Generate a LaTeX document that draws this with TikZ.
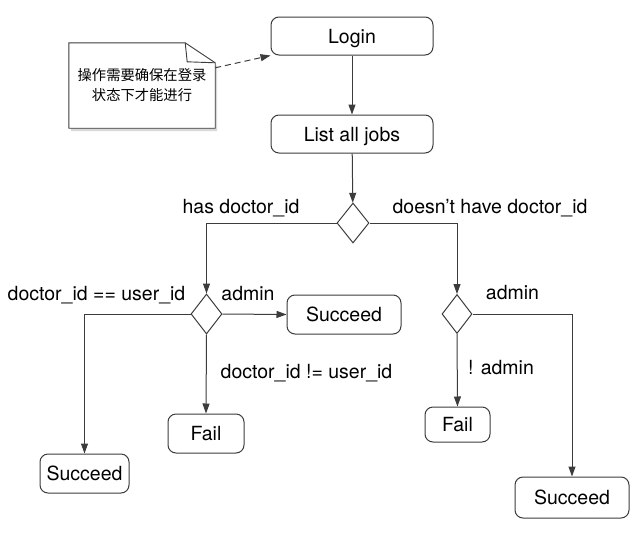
\documentclass[tikz,border=0pt]{standalone}
\usepackage{fontspec}
\setmainfont{TeX Gyre Heros}
\newfontfamily\cjk{Noto Sans CJK SC}
\usetikzlibrary{shapes.geometric,arrows.meta,shadows}

\definecolor{linegray}{RGB}{60,60,60}
\tikzset{
  flow_box/.style={draw=linegray, line width=1pt, rounded corners=8pt,
      inner sep=0pt, text height=14pt, text depth=0pt,
      font=\fontsize{19.5}{23}\selectfont},
  decision/.style={draw=linegray, line width=1pt, diamond, inner sep=0pt,
      minimum width=31pt, minimum height=40pt},
  flow_arrow/.style={draw=linegray, line width=1pt,
      -{Triangle[length=10pt,width=7pt]}},
  cond/.style={anchor=base, inner sep=0pt, font=\fontsize{19.5}{23}\selectfont},
  note_line/.style={draw=linegray, line width=0.9pt, fill=white}
}
\def\BoxH {38pt}

\begin{document}
\begin{tikzpicture}[x=1pt,y=-1pt]
        \useasboundingbox (0,0) rectangle (635,536);
        \node[flow_box, minimum width=162pt, minimum height=\BoxH] (login) at (352,36) {Login};
        \node[flow_box, minimum width=162pt, minimum height=\BoxH] (jobs) at (352,134) {List all jobs};
        \node[decision, minimum width=32pt] (dec_doc) at (353,223) {};
        \node[decision] (dec_user) at (206.5,314) {};
        \node[decision, minimum width=30pt, minimum height=39pt] (dec_admin) at (457,314) {};
        \node[flow_box, minimum width=114pt, minimum height=39pt] (ok_admin) at (344,314.5) {Succeed};
        \node[flow_box, minimum width=89pt, minimum height=39pt] (ok_user) at (84.5,473.5) {Succeed};
        \node[flow_box, minimum width=76pt, minimum height=39pt] (fail_user) at (206,433.5) {Fail};
        \node[flow_box, minimum width=65pt, minimum height=35pt] (fail_admin) at (457.5,424.5) {Fail};
        \node[flow_box, minimum width=114pt, minimum height=41pt] (ok_nodoc) at (572,497.5) {Succeed};

        \node[minimum width=146pt, minimum height=85pt, inner sep=0pt, align=center,
              font=\cjk\fontsize{14.3}{20}\selectfont] (note) at (142,85.5) {};
        \draw[note_line, drop shadow={opacity=0.3, shadow xshift=2pt, shadow yshift=-3pt}]
            (note.north west) -- ([xshift=-30pt]note.north east)
            -- ([yshift=-20pt]note.north east) -- (note.south east)
            -- (note.south west) -- cycle;
        \draw[note_line, fill=none] ([xshift=-30pt]note.north east)
            -- ([xshift=-28pt,yshift=-19pt]note.north east)
            -- ([yshift=-20pt]note.north east);
        \node[font=\cjk\fontsize{14.3}{20}\selectfont, align=center, inner sep=0pt]
            (note_text) at (note.center) {操作需要确保在登录\\状态下才能进行};

        \draw[flow_arrow, dashed, dash pattern=on 6pt off 4pt]
            ([yshift=-25pt]note.north east) -- (login.south west);
        \draw[flow_arrow] (login) -- (jobs);
        \draw[flow_arrow] (jobs) -- (dec_doc);
        \draw[flow_arrow] (dec_doc.west) -| (dec_user.north);
        \draw[flow_arrow] (dec_doc.east) -| (dec_admin.north);
        \draw[flow_arrow] (dec_user.east) -- (ok_admin.west);
        \draw[flow_arrow] (dec_user.west) -| (ok_user.north);
        \draw[flow_arrow] (dec_user.south) -- (fail_user.north);
        \draw[flow_arrow] (dec_admin.east) -| (ok_nodoc.north);
        \draw[flow_arrow] (dec_admin.south) -- (fail_admin.north);

        \node[cond] (l_has) at (241,213) {has doctor\_id};
        \node[cond] (l_hasnt) at (490,213) {doesn’t have doctor\_id};
        \node[cond] (l_eq) at (96.5,300.5) {doctor\_id == user\_id};
        \node[cond] (l_admin) at (248,300.5) {admin};
        \node[cond] (l_neq) at (306.5,378) {doctor\_id != user\_id};
        \node[cond] (l_admin2) at (512.5,299.5) {admin};
        \node[cond] (l_notadmin) at (501,374.5) {! admin};
      \end{tikzpicture}
\end{document}
